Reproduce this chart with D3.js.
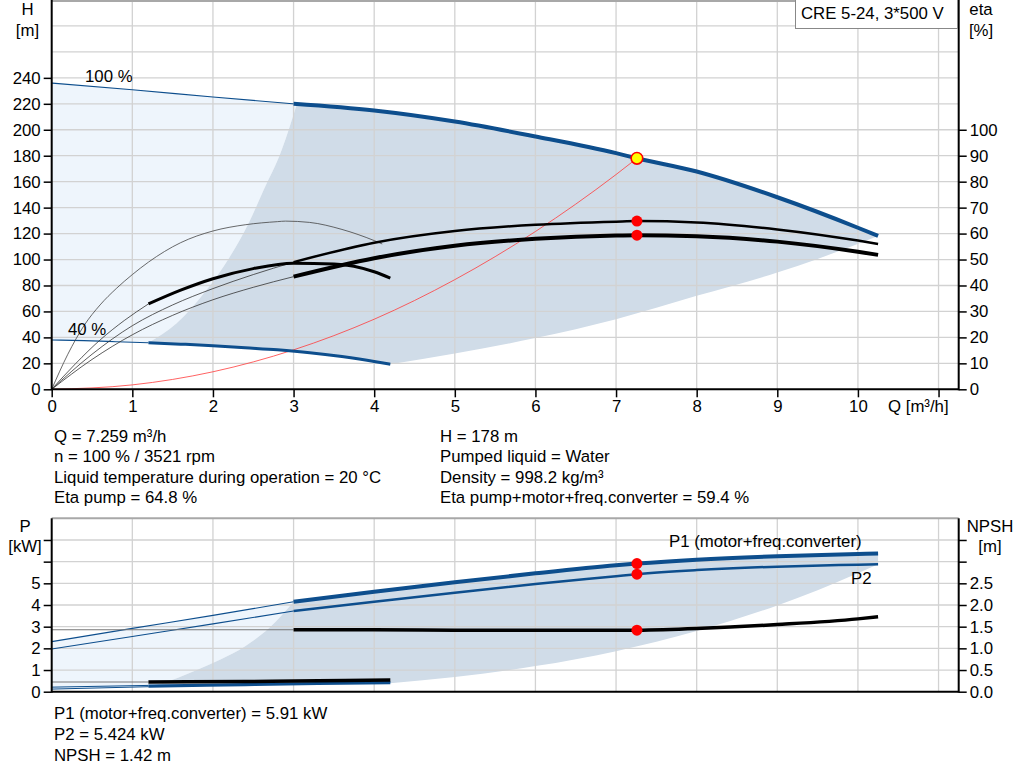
<!DOCTYPE html>
<html><head><meta charset="utf-8">
<script src="https://cdn.jsdelivr.net/npm/d3@7/dist/d3.min.js"></script>
<style>
body{margin:0;background:#fff}
svg text{font-family:"Liberation Sans",Arial,sans-serif;font-size:16.8px;fill:#000}
</style>
</head><body><svg id="c" width="1024" height="781"></svg>
<script>
// ---------------- DATA ----------------
// Head curve at 100 % speed
const Q_H100 = [0,1,2,3,4,5,6,7,7.26,8,9,10,10.25];
const H100   = [236,230.8,225.3,220,214.8,206.3,194.8,182,178,167.8,148,124.5,118.2];
// Head curve at 40 % speed
const Q_H40 = [0,0.4,0.8,1.2,1.6,2.0,2.4,2.8,3.2,3.6,4.0,4.2];
const H40   = [38,37.5,36.7,35.9,34.8,33.6,32,30.4,28.2,25.2,21.5,19.3];
// Operating-range boundaries (head chart)
const Q_MINF = [1.2,1.55,1.9,2.21,2.45,2.63,2.85,3.04];
const H_MINF = [35.9,50.9,75,102.2,129,153.7,184,219.7];
const Q_LOWB = [4.2,5,6,7,8,9,9.5,10.25];
const H_LOWB = [19.3,27.5,39.5,54,72,90,100.5,118.2];
// Efficiencies (%)
const Q_ETA100   = [0,0.5,1,1.5,2,2.5,3,4,5,6,7,7.26,8,9,10,10.25];
const ETA_PUMP100 = [0,13.5,24.5,32.5,38.8,44.2,49,56.5,61,63.4,64.6,64.8,64.3,61.6,57.3,56];
const ETA_TOT100  = [0,11.5,21,28.5,34.5,39.3,43.4,50.5,55.3,58,59.3,59.4,59,56.9,53,51.8];
const Q_ETAP40   = [0,0.2,0.4,0.6,0.8,1.0,1.2,1.6,2.0,2.4,2.8,2.9,3.2,3.6,4.0,4.1];
const ETA_PUMP40 = [0,13.5,24.5,32.5,38.8,44.2,49,56.5,61,63.4,64.6,64.8,64.3,61.6,57.3,56];
const Q_ETAT40   = [0,0.3,0.6,0.9,1.2,1.6,2.0,2.5,3.0,3.5,4.0,4.2];
const ETA_TOT40  = [0,10,19,26.5,32.9,38.2,42.6,46.5,48.6,48.3,45.3,42.8];
// System curve
const Q_SYS = [0,1,2,3,4,5,6,7,7.259];
const H_SYS = [0,3.4,13.5,30.4,54,84.5,121.6,165.5,178];
// Duty point
const DUTY = {q:7.259, h:178, etaPump:64.8, etaTot:59.4, p1:5.91, p2:5.424, npsh:1.42};
// Power (kW) and NPSH (m)
const Q_P = [0,1,2,3,4,5,6,7,7.26,8,9,10,10.25];
const P1  = [2.31,2.92,3.52,4.15,4.61,5.05,5.46,5.83,5.91,6.09,6.25,6.35,6.38];
const P2  = [1.97,2.55,3.13,3.72,4.15,4.57,4.97,5.33,5.424,5.61,5.77,5.86,5.88];
const NPSH = [1.43,1.43,1.43,1.43,1.43,1.42,1.415,1.415,1.42,1.46,1.55,1.68,1.73];
const Q_P40 = [0,1.2,2.4,3.3,4.2];
const P1_40 = [0.21,0.29,0.35,0.40,0.45];
const P2_40 = [0.12,0.23,0.30,0.35,0.39];
const NPSH_40 = [0.225,0.225,0.235,0.25,0.27];
const Q_PMINF = [1.2,1.5,1.8,2.1,2.4,2.7,3.0];
const P_PMINF = [0.23,0.55,1.0,1.5,2.1,2.95,4.15];
const Q_PLOWB = [4.2,5,6,7,8,9,9.5,10.25];
const P_PLOWB = [0.39,0.68,1.18,1.87,2.8,3.98,4.68,5.88];
// Ticks
const Q_TICKS = [0,1,2,3,4,5,6,7,8,9,10,11];
const H_TICKS = [0,20,40,60,80,100,120,140,160,180,200,220,240];
const ETA_TICKS = [0,10,20,30,40,50,60,70,80,90,100];
const P_TICKS = [0,1,2,3,4,5,6,7];
const NPSH_TICKS = [0,0.5,1,1.5,2,2.5,3,3.5];
// Texts
const INFO_LEFT = ["Q = 7.259 m³/h","n = 100 % / 3521 rpm","Liquid temperature during operation = 20 °C","Eta pump = 64.8 %"];
const INFO_RIGHT = ["H = 178 m","Pumped liquid = Water","Density = 998.2 kg/m³","Eta pump+motor+freq.converter = 59.4 %"];
const INFO_BOTTOM = ["P1 (motor+freq.converter) = 5.91 kW","P2 = 5.424 kW","NPSH = 1.42 m"];
const TITLE = "CRE 5-24, 3*500 V";

// ---------------- DRAW ----------------
const BLUE = "#0d4e8d", LIGHT = "#eef5fc", DARK = "#d0dce8", GRID = "#d2d2d2";
const svg = d3.select("#c");
const x = d3.scaleLinear().domain([0,11.25]).range([51.7,958.7]);
const yH = d3.scaleLinear().domain([0,300]).range([389.3,0]);
const yEta = d3.scaleLinear().domain([0,150]).range([389.3,0]);
const yP = d3.scaleLinear().domain([0,8]).range([691.7,518.3]);
const yN = d3.scaleLinear().domain([0,4]).range([691.7,518.3]);

const zip = (qs,vs)=>qs.map((q,i)=>[q,vs[i]]);
const seg = (arr,a,b)=>arr.filter(d=>d[0]>=a-1e-9 && d[0]<=b+1e-9);
const lineOf = ys => d3.line().x(d=>x(d[0])).y(d=>ys(d[1])).curve(d3.curveMonotoneX);
const joinPath = (ys, parts)=>parts.map((p,i)=>{const s=lineOf(ys)(p); return i?s.replace(/^M/,"L"):s;}).join("")+"Z";

const h100=zip(Q_H100,H100), h40=zip(Q_H40,H40), minf=zip(Q_MINF,H_MINF), lowb=zip(Q_LOWB,H_LOWB);
const p1=zip(Q_P,P1), p2=zip(Q_P,P2), np=zip(Q_P,NPSH);
const p140=zip(Q_P40,P1_40), p240=zip(Q_P40,P2_40), np40=zip(Q_P40,NPSH_40);
const pminf=zip(Q_PMINF,P_PMINF), plowb=zip(Q_PLOWB,P_PLOWB);

// regions top
svg.append("path").attr("fill",LIGHT).attr("d",joinPath(yH,[seg(h100,0,3),minf.slice().reverse(),seg(h40,0,1.2).reverse()]));
svg.append("path").attr("fill",DARK).attr("d",joinPath(yH,[seg(h100,3,10.25),lowb.slice().reverse(),seg(h40,1.2,4.2).reverse(),minf]));
// regions bottom
svg.append("path").attr("fill",LIGHT).attr("d",joinPath(yP,[seg(p1,0,3),pminf.slice().reverse(),seg(p240,0,1.2).reverse()]));
svg.append("path").attr("fill",DARK).attr("d",joinPath(yP,[seg(p1,3,10.25),plowb.slice().reverse(),seg(p240,1.2,4.2).reverse(),pminf]));

// grids
const grid = svg.append("g").attr("stroke",GRID).attr("stroke-width",1.3);
Q_TICKS.forEach(q=>{ if(q>0){
  grid.append("line").attr("x1",x(q)).attr("x2",x(q)).attr("y1",0).attr("y2",yH(0));
  grid.append("line").attr("x1",x(q)).attr("x2",x(q)).attr("y1",yP(8)).attr("y2",yP(0));
}});
d3.range(20,301,20).forEach(h=>grid.append("line").attr("x1",x(0)).attr("x2",x(11.25)).attr("y1",yH(h)).attr("y2",yH(h)));
d3.range(1,8,1).forEach(p=>grid.append("line").attr("x1",x(0)).attr("x2",x(11.25)).attr("y1",yP(p)).attr("y2",yP(p)));
// top borders
svg.append("line").attr("x1",x(0)).attr("x2",x(11.25)).attr("y1",1).attr("y2",1).attr("stroke","#a8a8a8").attr("stroke-width",2);
svg.append("line").attr("x1",x(0)).attr("x2",x(11.25)).attr("y1",yP(8)).attr("y2",yP(8)).attr("stroke","#a8a8a8").attr("stroke-width",2);

function draw(ys,pts,color,w){
  svg.append("path").attr("d",lineOf(ys)(pts)).attr("fill","none").attr("stroke",color).attr("stroke-width",w).attr("stroke-linecap","butt");
}
// top curves
draw(yH,zip(Q_SYS,H_SYS),"#ff3b3b",0.8);
draw(yH,seg(h100,0,3),BLUE,1.1);
draw(yH,seg(h100,3,10.25),BLUE,4);
draw(yH,seg(h40,0,1.2),BLUE,1.1);
draw(yH,seg(h40,1.2,4.2),BLUE,3);
const ep100=zip(Q_ETA100,ETA_PUMP100), et100=zip(Q_ETA100,ETA_TOT100), et40=zip(Q_ETAT40,ETA_TOT40);
draw(yEta,zip(Q_ETAP40,ETA_PUMP40),"#444",0.8);
draw(yEta,seg(ep100,0,3),"#333",0.8);
draw(yEta,seg(et100,0,3),"#333",0.8);
draw(yEta,seg(et40,0,1.2),"#333",0.8);
draw(yEta,seg(et40,1.2,4.2),"#000",3);
draw(yEta,seg(ep100,3,10.25),"#000",2.5);
draw(yEta,seg(et100,3,10.25),"#000",4);
// bottom curves
draw(yP,seg(p1,0,3),BLUE,1.1);
draw(yP,seg(p1,3,10.25),BLUE,4);
draw(yP,seg(p2,0,3),BLUE,1.1);
draw(yP,seg(p2,3,10.25),BLUE,2.5);
draw(yN,seg(np,0,3),"#777",1.1);
draw(yN,seg(np,3,10.25),"#000",3.5);
draw(yP,seg(p140,0,1.2),BLUE,1);
draw(yP,seg(p140,1.2,4.2),BLUE,2);
draw(yP,seg(p240,0,1.2),BLUE,1);
draw(yP,seg(p240,1.2,4.2),BLUE,2);
draw(yN,seg(np40,0,1.2),"#777",1.1);
draw(yN,seg(np40,1.2,4.2),"#000",3.5);

// axes
function styleAxis(g){
  g.select(".domain").remove();
  g.selectAll(".tick line").attr("stroke","#000").attr("stroke-width",1.5);
  g.selectAll("text").attr("fill","#000");
  g.attr("font-size",null).attr("font-family",null);
}
svg.append("g").attr("transform",`translate(0,${yH(0)})`).call(d3.axisBottom(x).tickValues(Q_TICKS).tickSize(8).tickPadding(3).tickFormat(d=>d<=10?d:"")).call(styleAxis);
svg.append("g").attr("transform",`translate(${x(0)},0)`).call(d3.axisLeft(yH).tickValues(H_TICKS).tickSize(8).tickPadding(3)).call(styleAxis);
svg.append("g").attr("transform",`translate(${x(11.25)},0)`).call(d3.axisRight(yEta).tickValues(ETA_TICKS).tickSize(8).tickPadding(3)).call(styleAxis);
svg.append("g").attr("transform",`translate(${x(0)},0)`).call(d3.axisLeft(yP).tickValues(P_TICKS).tickSize(8).tickPadding(3).tickFormat(d=>d<=5?d:"")).call(styleAxis);
svg.append("g").attr("transform",`translate(${x(11.25)},0)`).call(d3.axisRight(yN).tickValues(NPSH_TICKS).tickSize(8).tickPadding(3).tickFormat(d=>d<=2.5?d3.format(".1f")(d):"")).call(styleAxis);
const ax = svg.append("g").attr("stroke","#000").attr("stroke-width",2);
ax.append("line").attr("x1",x(0)).attr("x2",x(0)).attr("y1",0).attr("y2",yH(0)+1);
ax.append("line").attr("x1",x(11.25)).attr("x2",x(11.25)).attr("y1",0).attr("y2",yH(0)+1);
ax.append("line").attr("x1",x(0)).attr("x2",x(11.25)).attr("y1",yH(0)).attr("y2",yH(0));
ax.append("line").attr("x1",x(0)).attr("x2",x(0)).attr("y1",yP(8)).attr("y2",yP(0)+1);
ax.append("line").attr("x1",x(11.25)).attr("x2",x(11.25)).attr("y1",yP(8)).attr("y2",yP(0)+1);
ax.append("line").attr("x1",x(0)).attr("x2",x(11.25)).attr("y1",yP(0)).attr("y2",yP(0));

// duty points
svg.append("circle").attr("cx",x(DUTY.q)).attr("cy",yEta(DUTY.etaPump)).attr("r",5.5).attr("fill","#ff0000");
svg.append("circle").attr("cx",x(DUTY.q)).attr("cy",yEta(DUTY.etaTot)).attr("r",5.5).attr("fill","#ff0000");
svg.append("circle").attr("cx",x(DUTY.q)).attr("cy",yH(DUTY.h)).attr("r",5.8).attr("fill","#ffff00").attr("stroke","#ff0000").attr("stroke-width",1.6);
svg.append("circle").attr("cx",x(DUTY.q)).attr("cy",yP(DUTY.p1)).attr("r",5.5).attr("fill","#ff0000");
svg.append("circle").attr("cx",x(DUTY.q)).attr("cy",yP(DUTY.p2)).attr("r",5.5).attr("fill","#ff0000");
svg.append("circle").attr("cx",x(DUTY.q)).attr("cy",yN(DUTY.npsh)).attr("r",5.5).attr("fill","#ff0000");

// labels
const T=(tx,ty,s,anchor,fill)=>svg.append("text").attr("x",tx).attr("y",ty).attr("text-anchor",anchor||"start").attr("fill",fill||"#000").text(s);
T(27.5,15,"H","middle"); T(27.5,36,"[m]","middle");
T(981,15,"eta","middle"); T(981,36,"[%]","middle");
T(25,532,"P","middle"); T(25,552,"[kW]","middle");
T(990,532,"NPSH","middle"); T(990,552,"[m]","middle");
T(888,412,"Q [m³/h]");
T(85,82,"100 %"); T(68,335,"40 %");
svg.append("rect").attr("x",795.5).attr("y",-1).attr("width",162).attr("height",29.5).attr("fill","#fff").attr("stroke","#888").attr("stroke-width",1);
T(801,19,TITLE);
INFO_LEFT.forEach((s,i)=>T(54,442+i*20.3,s));
INFO_RIGHT.forEach((s,i)=>T(440,442+i*20.3,s));
INFO_BOTTOM.forEach((s,i)=>T(54,719+i*21,s));
T(669,547,"P1 (motor+freq.converter)","start",BLUE);
T(851,584,"P2","start",BLUE);
</script></body></html>
